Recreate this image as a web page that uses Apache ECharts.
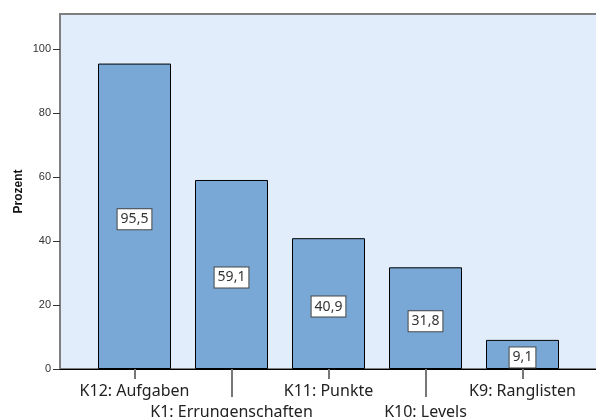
<!DOCTYPE html>
<html>
<head>
<meta charset="utf-8">
<script src="https://cdn.jsdelivr.net/npm/echarts@6/dist/echarts.min.js"></script>
<style>
  html, body { margin: 0; padding: 0; background: #fff; }
  #chart { width: 596px; height: 417px; }
</style>
</head>
<body>
<div id="chart"></div>
<script>
const categories = ['K12: Aufgaben', 'K1: Errungenschaften', 'K11: Punkte', 'K10: Levels', 'K9: Ranglisten']
const percent = [95.5, 59.1, 40.9, 31.8, 9.1]
const yTicks = [0, 20, 40, 60, 80, 100]
const yMax = 111

const chart = echarts.init(document.getElementById('chart'), null, { renderer: 'canvas' })

const labelFont = '"Noto Sans", "Open Sans", sans-serif'
const isEven = (i) => i % 2 === 0
const isOdd = (i) => i % 2 === 1

const options = {
  animation: false,
  grid: [
    // background panel + y axis
    {
      left: 60, right: -2, top: 14, bottom: 48,
      outerBoundsMode: 'none',
      show: true,
      backgroundColor: '#e1edfa',
      borderColor: '#7f7f7f',
      borderWidth: 2,
    },
    // bars (the second label row runs off the bottom, like the original)
    { left: 86, right: 25, top: 14, bottom: 48, outerBoundsMode: 'none' },
  ],
  xAxis: [
    {
      gridIndex: 0, type: 'value', min: 0, max: 1,
      axisLine: { show: true, lineStyle: { color: '#000', width: 1 } },
      axisTick: { show: false },
      axisLabel: { show: false },
      splitLine: { show: false },
    },
    {
      gridIndex: 1, type: 'category', data: categories, position: 'bottom',
      axisLine: { show: false },
      axisTick: { show: true, alignWithLabel: true, length: 10, interval: isEven, lineStyle: { color: '#777', width: 2 } },
      axisLabel: { interval: isEven, margin: 14, fontSize: 16, color: '#222', fontFamily: labelFont },
      splitLine: { show: false },
    },
    {
      gridIndex: 1, type: 'category', data: categories, position: 'bottom',
      axisLine: { show: false },
      axisTick: { show: true, alignWithLabel: true, length: 28, interval: isOdd, lineStyle: { color: '#777', width: 2 } },
      axisLabel: { interval: isOdd, margin: 35, fontSize: 16, color: '#222', fontFamily: labelFont },
      splitLine: { show: false },
    },
  ],
  yAxis: [
    {
      gridIndex: 0, type: 'value', min: 0, max: yMax,
      name: 'Prozent',
      nameLocation: 'middle',
      nameGap: 35,
      nameMoveOverlap: false,
      nameTextStyle: { fontSize: 12, fontWeight: 'bold', color: '#111', fontFamily: '"Liberation Sans", Arial, sans-serif' },
      axisLine: { show: true, lineStyle: { color: '#7f7f7f', width: 2 } },
      axisTick: { show: true, length: 7, customValues: yTicks, lineStyle: { color: '#333', width: 1 } },
      axisLabel: { customValues: yTicks, margin: 9, fontSize: 11, color: '#333', fontFamily: '"Liberation Sans", Arial, sans-serif' },
      splitLine: { show: false },
    },
    {
      gridIndex: 1, type: 'value', min: 0, max: yMax, show: false,
    },
  ],
  series: [
    {
      type: 'bar',
      xAxisIndex: 1,
      yAxisIndex: 1,
      data: percent,
      barWidth: 73,
      itemStyle: { color: '#79a8d6', borderColor: '#000', borderWidth: 1 },
      label: {
        show: true,
        position: 'inside',
        offset: [0, 3],
        formatter: (p) => p.value.toFixed(1).replace('.', ','),
        backgroundColor: '#fff',
        borderColor: '#444',
        borderWidth: 1,
        padding: [4, 3, 2, 3],
        fontSize: 14,
        color: '#333',
        fontFamily: labelFont,
      },
    },
  ],
}

chart.setOption(options)
</script>
</body>
</html>
